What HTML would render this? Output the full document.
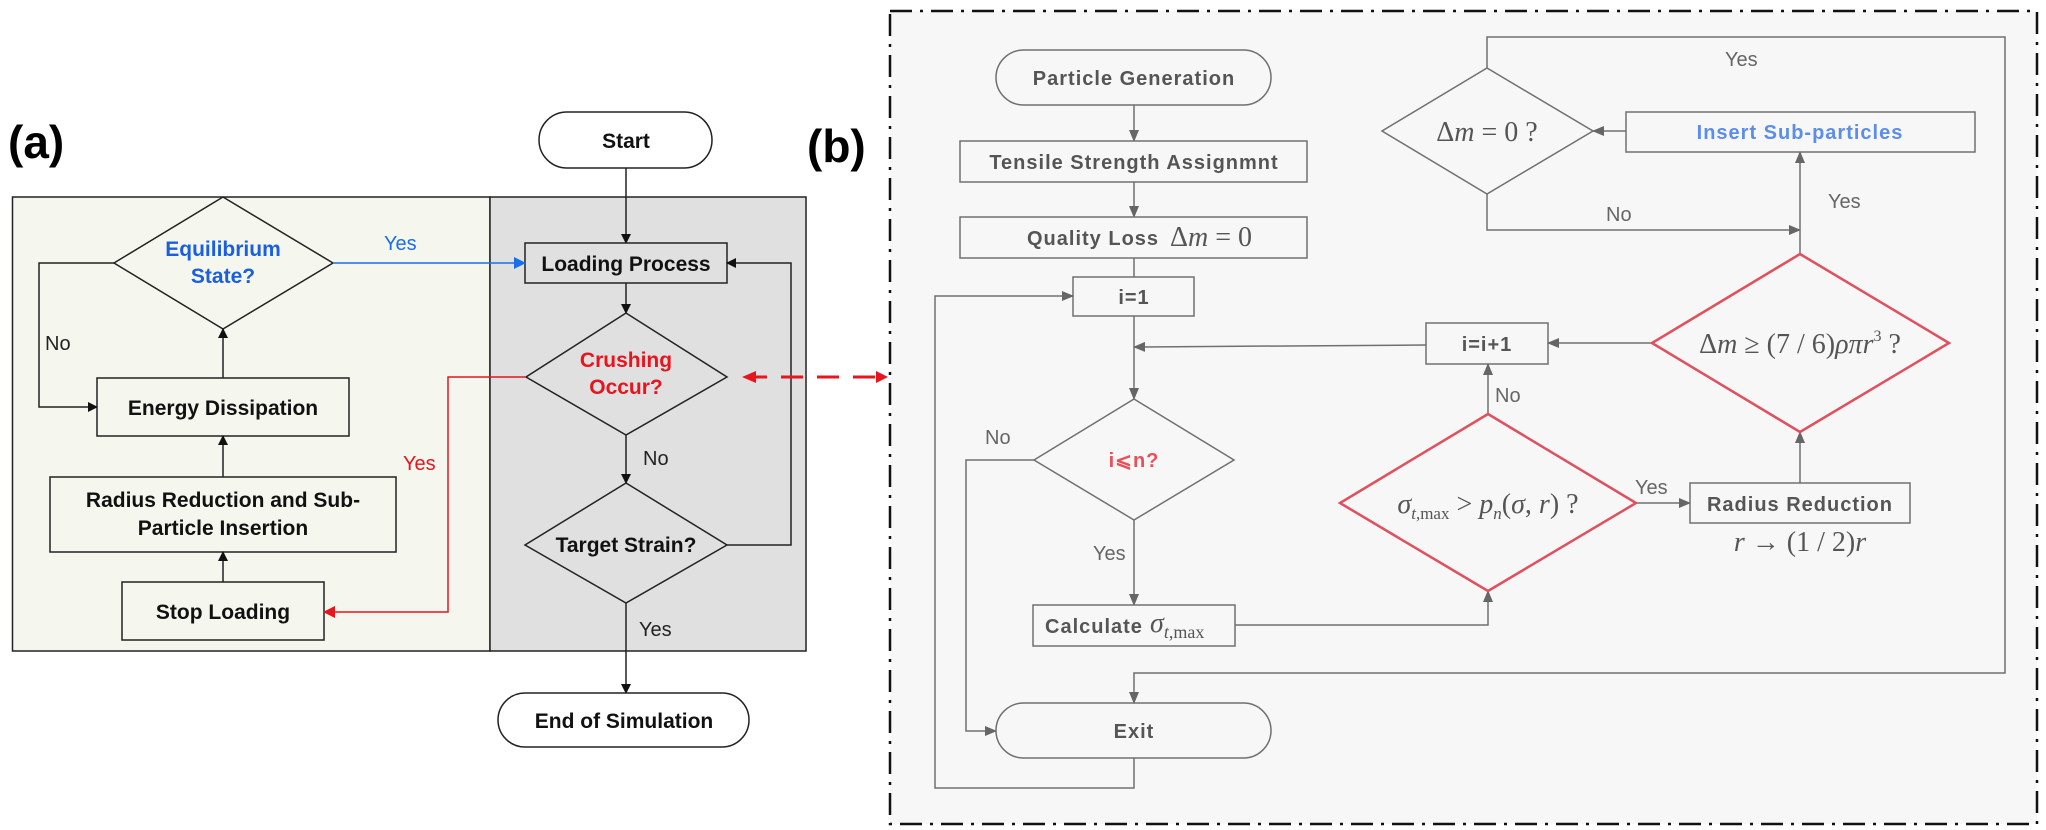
<!DOCTYPE html>
<html><head><meta charset="utf-8"><style>
html,body{margin:0;padding:0;background:#fff;}
svg{display:block;}
.a{font-family:"Liberation Sans",sans-serif;font-weight:bold;font-size:21px;fill:#111;}
.b{font-family:"Liberation Sans",sans-serif;font-weight:bold;font-size:20px;fill:#555;letter-spacing:1px;}
.l{font-family:"Liberation Sans",sans-serif;font-size:20px;}
.m{font-family:"Liberation Serif",serif;font-size:28px;fill:#555;}
</style></head><body>
<svg width="2046" height="830" viewBox="0 0 2046 830" xmlns="http://www.w3.org/2000/svg">
<defs>
<marker id="ak" markerWidth="10" markerHeight="10" refX="9" refY="5" orient="auto" markerUnits="userSpaceOnUse"><path d="M0,0 L10,5 L0,10 z" fill="#111"/></marker>
<marker id="ab" markerWidth="12" markerHeight="12" refX="11" refY="6" orient="auto" markerUnits="userSpaceOnUse"><path d="M0,0 L12,6 L0,12 z" fill="#1a6ee8"/></marker>
<marker id="ar" markerWidth="12" markerHeight="12" refX="11" refY="6" orient="auto" markerUnits="userSpaceOnUse"><path d="M0,0 L12,6 L0,12 z" fill="#e8141e"/></marker>
<marker id="ag" markerWidth="12" markerHeight="10" refX="11" refY="5" orient="auto" markerUnits="userSpaceOnUse"><path d="M0,0 L12,5 L0,10 z" fill="#666"/></marker>
</defs>

<!-- (a) -->
<text x="8" y="158" font-family="Liberation Sans,sans-serif" font-weight="bold" font-size="46">(a)</text>
<rect x="12.5" y="197" width="477.5" height="454" fill="#f5f7ee" stroke="#222" stroke-width="1.5"/>
<rect x="490" y="197" width="316" height="454" fill="#e0e0e0" stroke="#222" stroke-width="1.5"/>

<rect x="539" y="112" width="173" height="56" rx="28" fill="#fff" stroke="#222" stroke-width="1.5"/>
<text class="a" x="626" y="148" text-anchor="middle">Start</text>
<line x1="626" y1="168" x2="626" y2="243" stroke="#222" stroke-width="1.5" marker-end="url(#ak)"/>

<rect x="525" y="243" width="202" height="40" fill="#e0e0e0" stroke="#222" stroke-width="1.5"/>
<text class="a" x="626" y="271" text-anchor="middle">Loading Process</text>
<line x1="626" y1="283" x2="626" y2="313" stroke="#222" stroke-width="1.5" marker-end="url(#ak)"/>

<polygon points="626,313 727,377 626,435 526,377" fill="#e0e0e0" stroke="#222" stroke-width="1.5"/>
<text class="a" x="626" y="367" text-anchor="middle" style="fill:#e8141e">Crushing</text>
<text class="a" x="626" y="394" text-anchor="middle" style="fill:#e8141e">Occur?</text>
<line x1="626" y1="435" x2="626" y2="483" stroke="#222" stroke-width="1.5" marker-end="url(#ak)"/>
<text class="l" x="643" y="465" fill="#222">No</text>

<polygon points="626,483 727,545 626,603 525,545" fill="#e0e0e0" stroke="#222" stroke-width="1.5"/>
<text class="a" x="626" y="552" text-anchor="middle">Target Strain?</text>
<polyline points="727,545 791,545 791,263 727,263" fill="none" stroke="#222" stroke-width="1.5" marker-end="url(#ak)"/>
<line x1="626" y1="603" x2="626" y2="693" stroke="#222" stroke-width="1.5" marker-end="url(#ak)"/>
<text class="l" x="639" y="636" fill="#222">Yes</text>

<rect x="498" y="693" width="251" height="54" rx="27" fill="#fff" stroke="#222" stroke-width="1.5"/>
<text class="a" x="624" y="728" text-anchor="middle">End of Simulation</text>

<polygon points="223,197 333,263 223,329 114,263" fill="#f5f7ee" stroke="#222" stroke-width="1.5"/>
<text class="a" x="223" y="256" text-anchor="middle" style="fill:#1a5fe0">Equilibrium</text>
<text class="a" x="223" y="283" text-anchor="middle" style="fill:#1a5fe0">State?</text>
<line x1="333" y1="263" x2="525" y2="263" stroke="#1a6ee8" stroke-width="1.5" marker-end="url(#ab)"/>
<text class="l" x="384" y="250" fill="#1a6ee8">Yes</text>
<polyline points="114,263 39,263 39,407 97,407" fill="none" stroke="#222" stroke-width="1.5" marker-end="url(#ak)"/>
<text class="l" x="45" y="350" fill="#222">No</text>

<rect x="97" y="378" width="252" height="58" fill="#f5f7ee" stroke="#222" stroke-width="1.5"/>
<text class="a" x="223" y="415" text-anchor="middle">Energy Dissipation</text>
<line x1="223" y1="378" x2="223" y2="329" stroke="#222" stroke-width="1.5" marker-end="url(#ak)"/>

<rect x="50" y="477" width="346" height="75" fill="#f5f7ee" stroke="#222" stroke-width="1.5"/>
<text class="a" x="223" y="507" text-anchor="middle">Radius Reduction and Sub-</text>
<text class="a" x="223" y="535" text-anchor="middle">Particle Insertion</text>
<line x1="223" y1="477" x2="223" y2="436" stroke="#222" stroke-width="1.5" marker-end="url(#ak)"/>

<rect x="122" y="582" width="202" height="58" fill="#f5f7ee" stroke="#222" stroke-width="1.5"/>
<text class="a" x="223" y="619" text-anchor="middle">Stop Loading</text>
<line x1="223" y1="582" x2="223" y2="552" stroke="#222" stroke-width="1.5" marker-end="url(#ak)"/>

<polyline points="526,377 448,377 448,612 324,612" fill="none" stroke="#e8141e" stroke-width="1.5" marker-end="url(#ar)"/>
<text class="l" x="403" y="470" fill="#e8141e">Yes</text>

<!-- red dashed double arrow -->
<line x1="745" y1="377" x2="887" y2="377" stroke="#e8141e" stroke-width="3" stroke-dasharray="22,14" marker-end="url(#ar)"/>
<path d="M742,377 L756,371 L756,383 z" fill="#e8141e"/>

<!-- (b) -->
<text x="807" y="162" font-family="Liberation Sans,sans-serif" font-weight="bold" font-size="46">(b)</text>
<rect x="890" y="11" width="1147" height="813" fill="#f7f7f7" stroke="#111" stroke-width="2.5" stroke-dasharray="22,8,3,8"/>

<g stroke="#707070" stroke-width="1.5" fill="none">
<rect x="996" y="50" width="275" height="55" rx="27.5" fill="#f7f7f7"/>
<line x1="1134" y1="105" x2="1134" y2="141" marker-end="url(#ag)"/>
<rect x="960" y="141" width="347" height="41" fill="#f7f7f7"/>
<line x1="1134" y1="182" x2="1134" y2="217" marker-end="url(#ag)"/>
<rect x="960" y="217" width="347" height="41" fill="#f7f7f7"/>
<line x1="1134" y1="258" x2="1134" y2="277"/>
<rect x="1073" y="277" width="121" height="39" fill="#f7f7f7"/>
<line x1="1134" y1="316" x2="1134" y2="399" marker-end="url(#ag)"/>
<polyline points="1426,345 1134,347" marker-end="url(#ag)"/>
<polygon points="1134,399 1234,460 1134,520 1034,460" fill="#f7f7f7"/>
<polyline points="1034,460 966,460 966,731 996,731" marker-end="url(#ag)"/>
<line x1="1134" y1="520" x2="1134" y2="605" marker-end="url(#ag)"/>
<rect x="1033" y="605" width="202" height="41" fill="#f7f7f7"/>
<polyline points="1235,625 1488,625 1488,591" marker-end="url(#ag)"/>
<rect x="996" y="703" width="275" height="55" rx="27.5" fill="#f7f7f7"/>
<polyline points="1134,758 1134,788 935,788 935,296 1073,296" marker-end="url(#ag)"/>
<polyline points="1487,68 1487,37 2005,37 2005,673 1134,673 1134,703" marker-end="url(#ag)"/>

<polygon points="1487,68 1593,131 1487,194 1382,131" fill="#f7f7f7"/>
<rect x="1626" y="112" width="349" height="40" fill="#f7f7f7"/>
<line x1="1626" y1="131" x2="1593" y2="131" marker-end="url(#ag)"/>
<polyline points="1487,194 1487,230 1800,230" marker-end="url(#ag)"/>
<line x1="1800" y1="254" x2="1800" y2="152" marker-end="url(#ag)"/>
<rect x="1426" y="323" width="122" height="41" fill="#f7f7f7"/>
<line x1="1652" y1="343" x2="1548" y2="343" marker-end="url(#ag)"/>
<line x1="1488" y1="414" x2="1488" y2="364" marker-end="url(#ag)"/>
<line x1="1636" y1="503" x2="1690" y2="503" marker-end="url(#ag)"/>
<rect x="1690" y="483" width="220" height="40" fill="#f7f7f7"/>
<line x1="1800" y1="483" x2="1800" y2="432" marker-end="url(#ag)"/>
</g>
<polygon points="1800,254 1949,343 1800,432 1652,343" fill="#f7f7f7" stroke="#e0505e" stroke-width="2.5"/>
<polygon points="1488,414 1636,503 1488,591 1340,503" fill="#f7f7f7" stroke="#e0505e" stroke-width="2.5"/>

<text class="b" x="1134" y="85" text-anchor="middle">Particle Generation</text>
<text class="b" x="1134" y="169" text-anchor="middle">Tensile Strength Assignmnt</text>
<text class="b" x="1027" y="245">Quality Loss</text>
<text class="m" x="1170" y="246" font-size="31"><tspan>Δ</tspan><tspan font-style="italic">m</tspan> = 0</text>
<text class="b" x="1134" y="304" text-anchor="middle">i=1</text>
<text class="b" x="1134" y="467" text-anchor="middle" style="fill:#e8505a">i⩽n?</text>
<text class="l" x="985" y="444" fill="#666">No</text>
<text class="l" x="1093" y="560" fill="#666">Yes</text>
<text class="b" x="1045" y="633">Calculate</text>
<text class="m" x="1150" y="632" font-style="italic">σ<tspan font-size="18" dy="6" font-style="normal"><tspan font-style="italic">t</tspan>,max</tspan></text>
<text class="b" x="1134" y="738" text-anchor="middle">Exit</text>

<text class="l" x="1725" y="66" fill="#666">Yes</text>
<text class="m" x="1487" y="141" text-anchor="middle">Δ<tspan font-style="italic">m</tspan> = 0 ?</text>
<text class="b" x="1800" y="139" text-anchor="middle" style="fill:#5b8ee8">Insert Sub-particles</text>
<text class="l" x="1606" y="221" fill="#666">No</text>
<text class="l" x="1828" y="208" fill="#666">Yes</text>
<text class="m" x="1800" y="353" text-anchor="middle">Δ<tspan font-style="italic">m</tspan> ≥ (7 / 6)<tspan font-style="italic">ρπr</tspan><tspan font-size="16" dy="-12">3</tspan><tspan dy="12"> ?</tspan></text>
<text class="b" x="1487" y="351" text-anchor="middle">i=i+1</text>
<text class="l" x="1495" y="402" fill="#666">No</text>
<text class="m" x="1488" y="513" text-anchor="middle"><tspan font-style="italic">σ</tspan><tspan font-size="17" dy="6"><tspan font-style="italic">t</tspan>,max</tspan><tspan dy="-6"> &gt; </tspan><tspan font-style="italic">p</tspan><tspan font-size="17" dy="6" font-style="italic">n</tspan><tspan dy="-6">(</tspan><tspan font-style="italic">σ</tspan>, <tspan font-style="italic">r</tspan>) ?</text>
<text class="l" x="1635" y="494" fill="#666">Yes</text>
<text class="b" x="1800" y="511" text-anchor="middle">Radius Reduction</text>
<text class="m" x="1800" y="551" text-anchor="middle"><tspan font-style="italic">r</tspan> → (1 / 2)<tspan font-style="italic">r</tspan></text>
</svg>
</body></html>
